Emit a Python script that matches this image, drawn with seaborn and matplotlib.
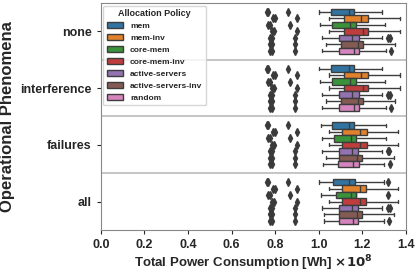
import numpy as np
import pandas as pd
import matplotlib
matplotlib.use("Agg")
import matplotlib.pyplot as plt
import seaborn as sns

# ---- data (units of 1e8 Wh) ----
categories = ["none", "interference", "failures", "all"]
policies = ["mem", "mem-inv", "core-mem", "core-mem-inv",
            "active-servers", "active-servers-inv", "random"]

whislo = [
    [1.000, 1.049, 1.006, 1.049, 1.017, 1.033, 1.017],
    [1.000, 1.049, 1.006, 1.049, 1.017, 1.033, 1.017],
    [1.009, 1.045, 1.017, 1.045, 1.017, 1.034, 1.019],
    [1.002, 1.045, 1.009, 1.045, 1.017, 1.026, 1.025],
]
q1 = [
    [1.057, 1.114, 1.063, 1.114, 1.095, 1.102, 1.092],
    [1.057, 1.114, 1.063, 1.114, 1.095, 1.102, 1.092],
    [1.063, 1.109, 1.072, 1.109, 1.091, 1.095, 1.089],
    [1.065, 1.106, 1.078, 1.109, 1.091, 1.095, 1.091],
]
med = [
    [1.140, 1.195, 1.145, 1.203, 1.152, 1.178, 1.160],
    [1.140, 1.195, 1.145, 1.203, 1.152, 1.178, 1.160],
    [1.140, 1.191, 1.149, 1.191, 1.152, 1.175, 1.157],
    [1.140, 1.188, 1.148, 1.191, 1.152, 1.175, 1.157],
]
q3 = [
    [1.163, 1.227, 1.169, 1.227, 1.183, 1.203, 1.186],
    [1.163, 1.227, 1.169, 1.227, 1.183, 1.203, 1.186],
    [1.163, 1.220, 1.172, 1.220, 1.178, 1.200, 1.183],
    [1.165, 1.218, 1.172, 1.218, 1.178, 1.200, 1.180],
]
whishi = [
    [1.292, 1.372, 1.306, 1.372, 1.290, 1.352, 1.310],
    [1.292, 1.372, 1.306, 1.372, 1.290, 1.352, 1.310],
    [1.307, 1.364, 1.307, 1.364, 1.290, 1.347, 1.300],
    [1.300, 1.362, 1.316, 1.362, 1.290, 1.344, 1.300],
]
low_fliers = [0.765, 0.796, 0.772, 0.791, 0.781, 0.781, 0.781]
low_fliers_b = [0.861, 0.899, 0.868, 0.899, 0.891, 0.891, 0.891]
high_fliers = [
    [[], [], [], [], [1.318, 1.325], [], [1.331]],
    [[], [], [], [], [1.318, 1.325], [], [1.331]],
    [[], [], [], [], [1.316, 1.323], [], [1.326]],
    [[1.318], [], [], [], [1.318, 1.325], [], [1.321]],
]

# ---- build samples reproducing the read-off box statistics ----
rows = []
K = 20
for gi, cat in enumerate(categories):
    for pi, pol in enumerate(policies):
        vals = ([low_fliers[pi] - 0.004, low_fliers[pi] + 0.004, low_fliers_b[pi]]
                + [whislo[gi][pi]] + [q1[gi][pi]] * K + [med[gi][pi]] * K
                + [q3[gi][pi]] * K + [whishi[gi][pi]] + high_fliers[gi][pi])
        for v in vals:
            rows.append((cat, pol, v))
df = pd.DataFrame(rows, columns=["phenomenon", "policy", "power"])

sns.set_style("ticks")
plt.rcParams["font.family"] = ["Liberation Sans", "DejaVu Sans"]
plt.rcParams["font.weight"] = "bold"
plt.rcParams["axes.labelweight"] = "bold"

fig, ax = plt.subplots(figsize=(4.15, 2.73), dpi=100)
fig.subplots_adjust(left=0.243, right=0.978, top=0.989, bottom=0.158)

dark = "#3a3a3a"
sns.boxplot(data=df, x="power", y="phenomenon", hue="policy",
            order=categories, hue_order=policies, palette="tab10",
            orient="h", width=0.8, linewidth=1, fliersize=4, ax=ax,
            flierprops=dict(marker="d", markerfacecolor=dark,
                            markeredgecolor=dark))

for yy in [0.5, 1.5, 2.5]:
    ax.axhline(yy, color="#bbbbbb", lw=1.2, zorder=0)

ax.set_xlim(0, 1.4)
ax.set_xticks(np.arange(0, 1.41, 0.2))
ax.set_xticklabels([f"{t:.1f}" for t in np.arange(0, 1.41, 0.2)])
ax.tick_params(axis="both", labelsize=9, length=3)
ax.set_xlabel("Total Power Consumption [Wh] $\\times\\mathbf{10^{8}}$",
              fontsize=9.5, labelpad=2)
ax.set_ylabel("Operational Phenomena", fontsize=12)
for s in ax.spines.values():
    s.set_color("#888888")
    s.set_linewidth(0.8)

handles, labels = ax.get_legend_handles_labels()
leg = ax.legend(handles, labels, title="Allocation Policy", loc="upper left",
                fontsize=6, title_fontsize=6.5, borderaxespad=0.3,
                frameon=True)

fig.savefig("out.png", dpi=100)
